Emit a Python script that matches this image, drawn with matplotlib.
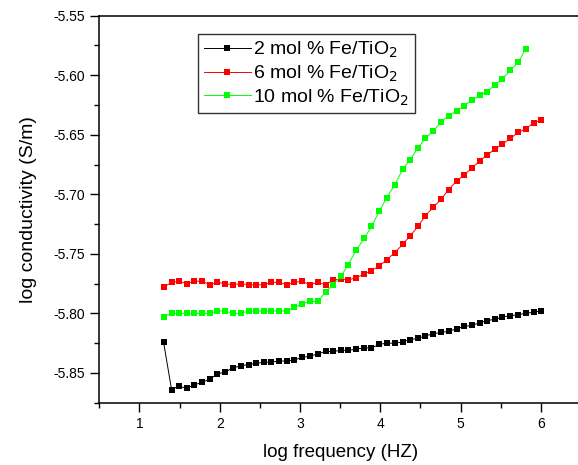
import numpy as np
import matplotlib.pyplot as plt
from matplotlib.ticker import MultipleLocator

plt.rcParams['font.family'] = ['Liberation Sans', 'DejaVu Sans']

# log frequency values (20 Hz .. 1 MHz)
x_all = [1.30, 1.40, 1.49, 1.59, 1.68, 1.78, 1.88, 1.97, 2.07, 2.16,
         2.26, 2.36, 2.45, 2.55, 2.64, 2.74, 2.84, 2.93, 3.03, 3.12,
         3.22, 3.32, 3.41, 3.51, 3.60, 3.70, 3.80, 3.89, 3.99, 4.08,
         4.18, 4.28, 4.37, 4.47, 4.56, 4.66, 4.76, 4.85, 4.95, 5.04,
         5.14, 5.24, 5.33, 5.43, 5.52, 5.62, 5.72, 5.81, 5.91, 6.00]

cond_2 = [-5.824, -5.864, -5.861, -5.863, -5.860, -5.858, -5.855, -5.851, -5.849, -5.846,
          -5.844, -5.843, -5.842, -5.841, -5.841, -5.840, -5.840, -5.839, -5.837, -5.836,
          -5.834, -5.832, -5.832, -5.831, -5.831, -5.830, -5.829, -5.829, -5.826, -5.825,
          -5.825, -5.824, -5.822, -5.821, -5.819, -5.817, -5.816, -5.815, -5.813, -5.811,
          -5.810, -5.808, -5.806, -5.805, -5.803, -5.802, -5.801, -5.800, -5.799, -5.798]

cond_6 = [-5.778, -5.774, -5.773, -5.775, -5.773, -5.773, -5.776, -5.774, -5.775, -5.776,
          -5.775, -5.776, -5.776, -5.776, -5.774, -5.774, -5.776, -5.774, -5.773, -5.776,
          -5.774, -5.776, -5.772, -5.771, -5.772, -5.770, -5.767, -5.764, -5.760, -5.755,
          -5.749, -5.742, -5.735, -5.727, -5.718, -5.711, -5.704, -5.696, -5.689, -5.684,
          -5.678, -5.672, -5.667, -5.662, -5.658, -5.653, -5.648, -5.645, -5.640, -5.638]

cond_10 = [-5.803, -5.800, -5.800, -5.800, -5.800, -5.800, -5.800, -5.798, -5.798, -5.800,
           -5.800, -5.798, -5.798, -5.798, -5.798, -5.798, -5.798, -5.795, -5.792, -5.790,
           -5.790, -5.782, -5.776, -5.769, -5.759, -5.747, -5.737, -5.727, -5.714, -5.703,
           -5.692, -5.679, -5.671, -5.661, -5.653, -5.647, -5.639, -5.634, -5.630, -5.626,
           -5.621, -5.617, -5.614, -5.608, -5.603, -5.596, -5.589, -5.578]

labels = ['2 mol % Fe/TiO$_2$', '6 mol % Fe/TiO$_2$', '10 mol % Fe/TiO$_2$']
colors = ['black', '#ff0000', '#00ff00']

fig = plt.figure(figsize=(5.78, 4.65), dpi=100)
ax = fig.add_axes([0.1718, 0.134, 0.8334, 0.8323])

series = [cond_2, cond_6, cond_10]
for ys, lab, col in zip(series, labels, colors):
    ax.plot(x_all[:len(ys)], ys, marker='s', markersize=5, color=col,
            linewidth=0.7, markeredgewidth=0, label=lab)

ax.set_xlim(0.5, 6.5)
ax.set_ylim(-5.875, -5.55)
ax.xaxis.set_major_locator(MultipleLocator(1))
ax.xaxis.set_minor_locator(MultipleLocator(0.5))
ax.yaxis.set_major_locator(MultipleLocator(0.05))
ax.yaxis.set_minor_locator(MultipleLocator(0.025))
ax.yaxis.set_major_formatter(plt.FormatStrFormatter('%.2f'))
ax.tick_params(which='major', direction='out', length=6.5, width=1, labelsize=10,
               top=False, right=False)
ax.tick_params(which='minor', direction='out', length=3.5, width=1,
               top=False, right=False)
for s in ax.spines.values():
    s.set_linewidth(1.1)

ax.set_xlabel('log frequency (HZ)', fontsize=13.5, labelpad=10)
ax.set_ylabel('log conductivity (S/m)', fontsize=14, labelpad=12)

leg = ax.legend(loc='upper left', bbox_to_anchor=(0.205, 0.953), borderaxespad=0,
                fontsize=14, frameon=True, fancybox=False, edgecolor='black',
                handlelength=2.4, borderpad=0.3, labelspacing=0.18,
                handletextpad=0.15)
leg.get_frame().set_linewidth(1.0)

fig.savefig('out.png', dpi=100)
